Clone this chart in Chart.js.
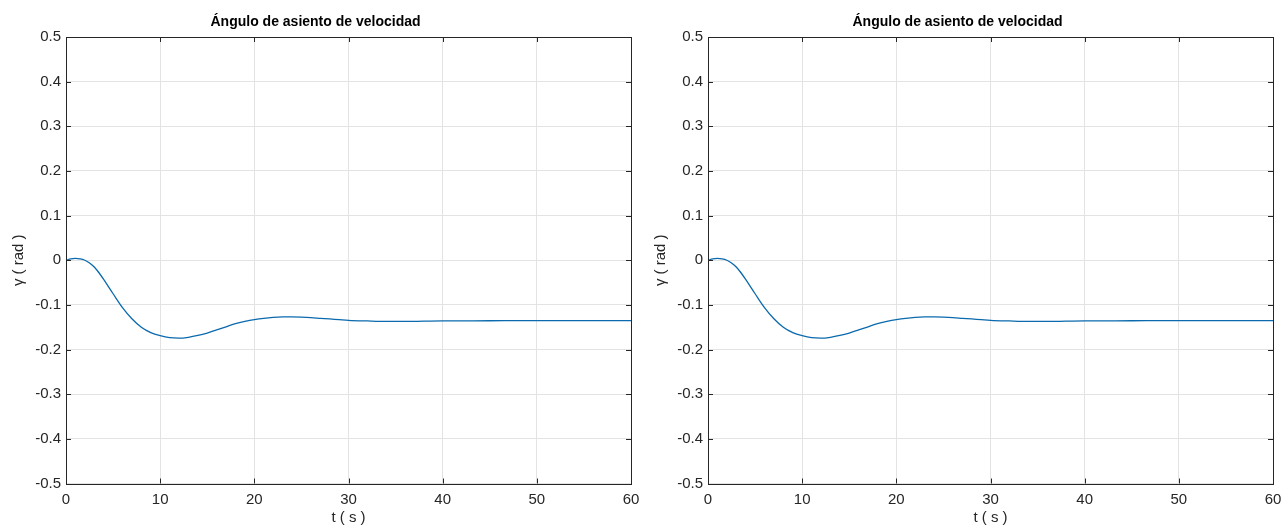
<!DOCTYPE html>
<html>
<head>
<meta charset="utf-8">
<script src="https://cdn.jsdelivr.net/npm/chart.js@4/dist/chart.umd.min.js"></script>
<style>
  html, body { margin: 0; padding: 0; background: #fff; }
  .row { display: flex; width: 1284px; height: 528px; }
  .row canvas { display: block; }
</style>
</head>
<body>
<div class="row">
  <canvas id="gammaLeft" width="642" height="528"></canvas>
  <canvas id="gammaRight" width="642" height="528"></canvas>
</div>
<script>
// time axis (s) and flight path angle response (rad)
const timeS = [0, 0.5, 1, 1.5, 2, 2.5, 3, 3.5, 4, 5, 6, 7, 8, 9, 10, 11, 12, 13, 14, 15,
  16, 17, 18, 19, 20, 21, 22, 23, 24, 25, 26, 27, 28, 29, 30, 32, 34, 36, 38, 40,
  45, 50, 55, 60];
const gammaRad = [0, 0.003, 0.004, 0.003, 0, -0.006, -0.015, -0.028, -0.043, -0.075,
  -0.106, -0.131, -0.150, -0.162, -0.169, -0.1735, -0.1745, -0.1725, -0.1685, -0.163,
  -0.156, -0.149, -0.142, -0.137, -0.133, -0.130, -0.128, -0.127, -0.127, -0.1275,
  -0.1285, -0.130, -0.1315, -0.133, -0.1345, -0.136, -0.137, -0.137, -0.1365, -0.136,
  -0.1355, -0.135, -0.135, -0.135];

const xTicks = [0, 10, 20, 30, 40, 50, 60];
const yTicks = [-0.5, -0.4, -0.3, -0.2, -0.1, 0, 0.1, 0.2, 0.3, 0.4, 0.5];

const titleText = 'Ángulo de asiento de velocidad';
const xLabel = 't ( s )';
const yLabel = 'γ ( rad )';

const FONT = '"Liberation Sans", Arial, Helvetica, sans-serif';
const INK = '#262626';

// box around the axes with inward tick marks on all four sides
const boxTicks = {
  id: 'boxTicks',
  afterDatasetsDraw(chart) {
    const { ctx, chartArea: a, scales: { x, y } } = chart;
    const len = 5;
    ctx.save();
    ctx.strokeStyle = INK;
    ctx.lineWidth = 1;
    ctx.beginPath();
    xTicks.forEach(v => {
      const px = Math.round(x.getPixelForValue(v)) + 0.5;
      ctx.moveTo(px, a.bottom); ctx.lineTo(px, a.bottom - len);
      ctx.moveTo(px, a.top); ctx.lineTo(px, a.top + len);
    });
    yTicks.forEach(v => {
      const py = Math.round(y.getPixelForValue(v)) + 0.5;
      ctx.moveTo(a.left, py); ctx.lineTo(a.left + len, py);
      ctx.moveTo(a.right, py); ctx.lineTo(a.right - len, py);
    });
    ctx.stroke();
    ctx.strokeRect(Math.round(a.left) + 0.5, Math.round(a.top) + 0.5,
      Math.round(a.right - a.left), Math.round(a.bottom - a.top));
    ctx.restore();
  }
};

function makePanel(id) {
  const points = timeS.map((t, i) => ({ x: t, y: gammaRad[i] }));
  return new Chart(document.getElementById(id), {
    type: 'line',
    data: {
      datasets: [{
        data: points,
        borderColor: '#0a6aad',
        borderWidth: 1.3,
        pointRadius: 0,
        cubicInterpolationMode: 'monotone',
        fill: false
      }]
    },
    options: {
      responsive: false,
      animation: false,
      layout: { padding: { left: 0, right: 11, top: 0, bottom: 0 } },
      plugins: {
        legend: { display: false },
        tooltip: { enabled: false },
        title: {
          display: true,
          text: titleText,
          color: '#000',
          font: { family: FONT, size: 14, weight: 'bold' },
          padding: { top: 14, bottom: 6.2 }
        }
      },
      scales: {
        x: {
          type: 'linear',
          min: 0, max: 60,
          afterFit: s => { s.height = 44.5; s.paddingLeft = 0; s.paddingRight = 0; },
          afterBuildTicks: s => { s.ticks = xTicks.map(v => ({ value: v })); },
          grid: { color: '#e3e3e3', drawTicks: false },
          border: { display: false },
          ticks: {
            color: INK, padding: 7, maxRotation: 0,
            font: { family: FONT, size: 15 }
          },
          title: {
            display: true, text: xLabel, color: INK,
            font: { family: FONT, size: 15 },
            padding: { top: 0, bottom: 1 }
          }
        },
        y: {
          type: 'linear',
          min: -0.5, max: 0.5,
          afterFit: s => { s.width = 66; },
          afterBuildTicks: s => { s.ticks = yTicks.map(v => ({ value: v })); },
          grid: { color: '#e3e3e3', drawTicks: false },
          border: { display: false },
          ticks: {
            color: INK, padding: 5,
            font: { family: FONT, size: 15 },
            callback: v => String(+v.toFixed(1))
          },
          title: {
            display: true, text: yLabel, color: INK,
            font: { family: FONT, size: 15 },
            padding: { top: 10, bottom: 0 }
          }
        }
      }
    },
    plugins: [boxTicks]
  });
}

makePanel('gammaLeft');
makePanel('gammaRight');
</script>
</body>
</html>
